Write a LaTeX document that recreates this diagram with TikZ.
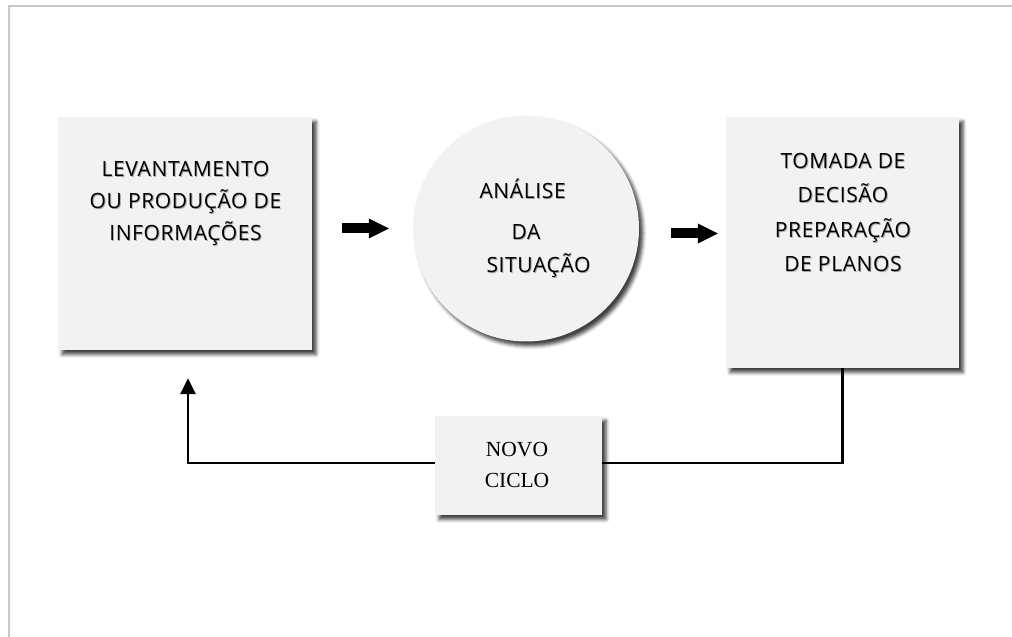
\documentclass[tikz,border=0pt]{standalone}
\usepackage{fontspec}
\setmainfont{Open Sans}[LetterSpace=3]
\newfontfamily\ciclofont{Liberation Serif}
\usetikzlibrary{arrows.meta,shadows.blur}

\definecolor{caixacinza}{HTML}{F2F2F2}
\definecolor{molduracinza}{HTML}{C8C8C8}

% texto com sombra leve
\newcommand{\sombra}[1]{\leavevmode\rlap{\kern0.9pt\raisebox{-0.9pt}{\textcolor{black!35}{#1}}}#1}

\tikzset{
	caixa/.style={rectangle, fill=caixacinza, inner sep=0pt,
		blur shadow={shadow xshift=4pt, shadow yshift=-4.5pt, shadow blur radius=3.5pt, shadow opacity=75}},
	texto/.style={align=center, font=\fontsize{21pt}{32pt}\selectfont},
	seta/.style={line width=10pt, -{Triangle[length=20pt,width=20pt,line width=0pt]}},
	retorno/.style={line width=2.5pt},
}

\begin{document}
\begin{tikzpicture}[x=1pt,y=1pt]
	\useasboundingbox (0,0) rectangle (1012,637);
	\draw[molduracinza, line width=2pt] (8.5,0) -- (8.5,630.5) -- (1012,630.5);

	\node[caixa, minimum width=254pt, minimum height=233pt] (lev) at (185,403.5) {};
	\node[caixa, circle, minimum size=226pt] (ana) at (526,408.5) {};
	\node[caixa, minimum width=233pt, minimum height=251pt] (dec) at (842.5,394.5) {};
	\node[caixa, minimum width=167pt, minimum height=99pt] (novo) at (518.5,171.5) {};

	\node[texto] (levtxt) at (185.5,433) {\sombra{LEVANTAMENTO}\\\sombra{OU PRODUÇÃO DE}\\\sombra{INFORMAÇÕES}};
	\node[texto, anchor=base west] (anatxta) at (476,438) {\sombra{ANÁLISE}};
	\node[texto, anchor=base west] (anatxtb) at (508,397.7) {\sombra{DA}};
	\node[texto, anchor=base west] (anatxtc) at (483,364.7) {\sombra{SITUAÇÃO}};
	\node[texto, font=\fontsize{21pt}{34.5pt}\selectfont] (dectxt) at (843,424) {\sombra{TOMADA DE}\\\sombra{DECISÃO}\\\sombra{PREPARAÇÃO}\\\sombra{DE PLANOS}};
	\node[align=center, font=\ciclofont\fontsize{21.5pt}{31pt}\selectfont] (novotxt) at (517,172) {NOVO\\CICLO};

	\draw[seta, shorten <=30pt, shorten >=24pt] (lev.east |- ana.center) -- (ana.west);
	\draw[seta, shorten <=32pt, shorten >=8pt] (ana.east |- lev.center) -- (dec.west |- lev.center);

	\draw[retorno] (dec.south) |- ([yshift=2.5pt]novo.east);
	\draw[retorno, -{Triangle[length=16pt,width=15pt]}] ([yshift=2.5pt]novo.west) -| ([xshift=3pt,yshift=-28pt]lev.south);
\end{tikzpicture}
\end{document}
